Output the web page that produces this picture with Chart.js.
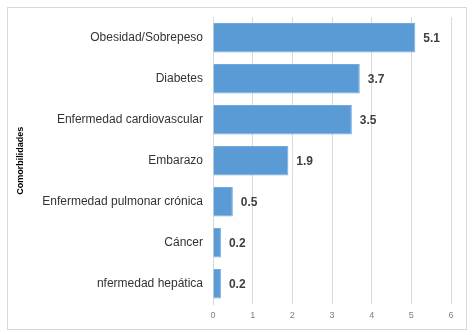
<!DOCTYPE html>
<html>
<head>
<meta charset="utf-8">
<script src="https://cdn.jsdelivr.net/npm/chart.js@4.4.1/dist/chart.umd.min.js"></script>
<style>
  html, body { margin: 0; padding: 0; background: #fff; }
  #frame { position: absolute; left: 7px; top: 7px; width: 458px; height: 321px; border: 1px solid #d9d9d9; }
  #wrap { position: absolute; left: 0; top: 0; width: 475px; height: 335px; }
</style>
</head>
<body>
<div id="frame"></div>
<div id="wrap"><canvas id="chart_comorbilidades"></canvas></div>
<script>
var categorias = ['Obesidad/Sobrepeso', 'Diabetes', 'Enfermedad cardiovascular', 'Embarazo', 'Enfermedad pulmonar crónica', 'Cáncer', 'nfermedad hepática'];
var valores = [5.1, 3.7, 3.5, 1.9, 0.5, 0.2, 0.2];
var etiquetasX = ['0', '1', '2', '3', '4', '5', '6'];

var chart_comorbilidades = new Chart(document.getElementById('chart_comorbilidades'), {
    type: 'bar',
    data: {
        labels: categorias,
        datasets: [{
            label: 'Comorbilidades',
            data: valores,
            backgroundColor: '#5b9bd5',
            borderColor: '#72aadd',
            borderWidth: 1,
            categoryPercentage: 1,
            barPercentage: 0.72
        }]
    },
    options: {
        indexAxis: 'y',
        animation: false,
        responsive: true,
        maintainAspectRatio: false,
        layout: { padding: { left: 15, right: 24, top: 17, bottom: 8 } },
        plugins: {
            legend: { display: false },
            tooltip: { enabled: false }
        },
        scales: {
            x: {
                min: 0,
                max: 6,
                ticks: {
                    stepSize: 1,
                    color: '#7f7f7f',
                    font: { family: 'Liberation Sans', size: 9 },
                    padding: 6,
                    callback: function(value, index) { return etiquetasX[index]; }
                },
                grid: { color: '#d9d9d9', drawTicks: false },
                border: { display: false }
            },
            y: {
                ticks: {
                    color: '#333333',
                    font: { family: 'Liberation Sans', size: 12 },
                    padding: 10
                },
                grid: { display: false, drawTicks: false },
                border: { display: true, color: '#d9d9d9' },
                title: {
                    display: true,
                    text: 'Comorbilidades',
                    color: '#000',
                    font: { family: 'Liberation Sans', size: 9, weight: 'bold' },
                    padding: { top: 0, bottom: 0 }
                },
                afterFit: function(scale) { scale.width = 198; }
            }
        }
    },
    plugins: [{
        id: 'valueLabels',
        afterDatasetsDraw: function(chart) {
            var ctx = chart.ctx;
            var meta = chart.getDatasetMeta(0);
            ctx.save();
            ctx.fillStyle = '#404040';
            ctx.font = 'bold 12px "Liberation Sans"';
            ctx.textBaseline = 'middle';
            ctx.textAlign = 'left';
            meta.data.forEach(function(bar, i) {
                ctx.fillText(valores[i].toFixed(1), bar.x + 8, bar.y + 1);
            });
            ctx.restore();
        }
    }]
});
</script>
</body>
</html>
